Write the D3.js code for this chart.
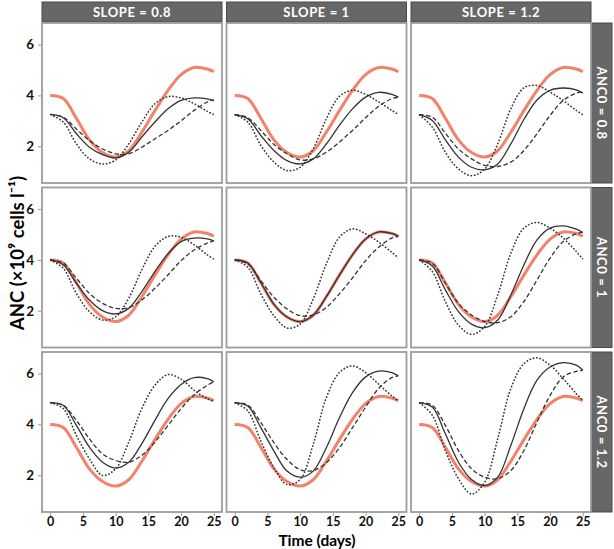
<!DOCTYPE html>
<html>
<head>
<meta charset="utf-8">
<script src="https://cdn.jsdelivr.net/npm/d3@7"></script>
<style>
  body { margin: 0; background: #fff; }
  text { font-family: Lato, "Open Sans", sans-serif; font-weight: bold; }
</style>
</head>
<body>
<svg id="chart" width="614" height="549"></svg>
<script>
const days = [0, 2, 4, 6, 8, 10, 12, 14, 16, 18, 20, 22, 24, 25];
const slopeLabels = ['SLOPE = 0.8', 'SLOPE = 1', 'SLOPE = 1.2'];
const anc0Labels = ['ANC0 = 0.8', 'ANC0 = 1', 'ANC0 = 1.2'];
const xTicks = [0, 5, 10, 15, 20, 25];
const yTicks = [2, 4, 6];

// reference profile (salmon), same in every panel
const reference = [4.0, 3.88, 3.1, 2.25, 1.75, 1.57, 1.82, 2.55, 3.4, 4.2, 4.82, 5.1, 5.04, 4.93];

// panels row by row: ANC0 0.8 / 1 / 1.2, columns SLOPE 0.8 / 1 / 1.2
const solid = [
  [3.25, 3.12, 2.49, 1.96, 1.67, 1.54, 1.76, 2.36, 2.95, 3.47, 3.8, 3.9, 3.86, 3.78],
  [3.24, 3.08, 2.42, 1.83, 1.43, 1.3, 1.5, 2.09, 2.82, 3.47, 3.93, 4.12, 4.04, 3.93],
  [3.24, 3.01, 2.25, 1.57, 1.17, 1.07, 1.3, 2.09, 3.05, 3.82, 4.2, 4.29, 4.22, 4.09],
  [4.0, 3.8, 3.08, 2.42, 2.0, 1.87, 2.09, 2.75, 3.54, 4.24, 4.72, 4.86, 4.83, 4.75],
  [4.0, 3.88, 3.1, 2.25, 1.75, 1.57, 1.82, 2.55, 3.4, 4.2, 4.82, 5.1, 5.04, 4.93],
  [4.0, 3.76, 2.82, 1.96, 1.47, 1.33, 1.63, 2.62, 3.8, 4.79, 5.25, 5.34, 5.21, 5.08],
  [4.86, 4.75, 3.96, 3.1, 2.51, 2.28, 2.51, 3.24, 4.16, 5.01, 5.57, 5.84, 5.8, 5.67],
  [4.86, 4.72, 3.87, 2.95, 2.16, 1.92, 2.16, 3.08, 4.26, 5.25, 5.87, 6.1, 6.04, 5.91],
  [4.86, 4.68, 3.63, 2.51, 1.83, 1.59, 1.92, 3.17, 4.62, 5.74, 6.26, 6.43, 6.33, 6.13]
];
const dashed = [
  [3.25, 3.14, 2.68, 2.22, 1.89, 1.7, 1.7, 1.96, 2.29, 2.62, 3.0, 3.41, 3.74, 3.83],
  [3.24, 3.12, 2.62, 2.07, 1.7, 1.46, 1.5, 1.76, 2.16, 2.62, 3.12, 3.57, 3.87, 3.93],
  [3.24, 3.14, 2.51, 1.89, 1.5, 1.24, 1.2, 1.37, 1.83, 2.49, 3.21, 3.8, 4.09, 4.13],
  [4.0, 3.87, 3.28, 2.68, 2.29, 2.09, 2.12, 2.42, 2.88, 3.41, 3.97, 4.39, 4.66, 4.75],
  [4.0, 3.84, 3.18, 2.53, 2.07, 1.8, 1.83, 2.13, 2.66, 3.29, 3.97, 4.5, 4.86, 4.93],
  [4.0, 3.87, 3.08, 2.29, 1.83, 1.57, 1.53, 1.76, 2.36, 3.21, 4.07, 4.72, 5.03, 5.08],
  [4.86, 4.75, 4.16, 3.43, 2.84, 2.58, 2.51, 2.78, 3.3, 3.96, 4.62, 5.17, 5.54, 5.67],
  [4.86, 4.76, 4.07, 3.28, 2.62, 2.22, 2.18, 2.49, 3.08, 3.87, 4.68, 5.42, 5.84, 5.91],
  [4.86, 4.75, 3.96, 2.97, 2.25, 1.92, 1.86, 2.18, 2.97, 4.09, 5.14, 5.87, 6.09, 6.13]
];
const dotted = [
  [3.25, 2.95, 2.09, 1.5, 1.3, 1.46, 2.09, 2.95, 3.67, 3.95, 3.9, 3.67, 3.37, 3.24],
  [3.24, 2.95, 2.03, 1.37, 1.04, 1.17, 1.9, 3.08, 3.96, 4.2, 4.04, 3.74, 3.41, 3.25],
  [3.24, 2.75, 1.76, 1.1, 0.84, 1.1, 2.09, 3.47, 4.3, 4.39, 4.13, 3.8, 3.41, 3.24],
  [4.0, 3.67, 2.68, 1.96, 1.63, 1.76, 2.49, 3.61, 4.53, 4.92, 4.89, 4.59, 4.2, 4.03],
  [4.0, 3.71, 2.66, 1.8, 1.32, 1.47, 2.46, 3.84, 4.89, 5.22, 5.03, 4.7, 4.3, 4.08],
  [4.0, 3.54, 2.36, 1.43, 1.07, 1.37, 2.62, 4.26, 5.25, 5.47, 5.25, 4.86, 4.33, 4.03],
  [4.86, 4.62, 3.57, 2.64, 1.99, 2.25, 3.3, 4.62, 5.54, 5.96, 5.78, 5.34, 5.01, 4.91],
  [4.86, 4.53, 3.34, 2.29, 1.63, 1.83, 3.21, 5.05, 6.04, 6.3, 6.04, 5.58, 5.12, 4.92],
  [4.86, 4.36, 2.97, 1.86, 1.26, 1.72, 3.43, 5.41, 6.39, 6.62, 6.33, 5.8, 5.21, 4.95]
];

const svg = d3.select('#chart');
const panelW = 180, panelH = 160;
const colX = [42, 226.5, 411];
const rowY = [23, 187.5, 352];

const x = d3.scaleLinear().domain([-1.25, 26.25]).range([0, panelW]);
const y = d3.scaleLinear().domain([0.55, 6.85]).range([panelH, 0]);

const line = d3.line()
  .x((d, i) => x(days[i]))
  .y(d => y(d))
  .curve(d3.curveCatmullRom);

const styles = [
  { data: dashed, dash: '4.5,2.5', width: 1.3 },
  { data: dotted, dash: '1.7,1.7', width: 1.5 },
  { data: solid, dash: null, width: 1.3 }
];

// column strips
slopeLabels.forEach((lab, c) => {
  svg.append('rect')
    .attr('x', colX[c]).attr('y', 2)
    .attr('width', panelW).attr('height', 20)
    .attr('fill', '#676767').attr('stroke', '#4a4a4a');
  svg.append('text')
    .attr('x', colX[c] + panelW / 2).attr('y', 16.5)
    .attr('text-anchor', 'middle')
    .attr('fill', '#fff').attr('font-size', 13)
    .attr('letter-spacing', 0.6)
    .text(lab);
});

// row strips
anc0Labels.forEach((lab, r) => {
  svg.append('rect')
    .attr('x', 591).attr('y', rowY[r])
    .attr('width', 21).attr('height', panelH)
    .attr('fill', '#676767').attr('stroke', '#4a4a4a');
  svg.append('text')
    .attr('transform', `translate(597, ${rowY[r] + panelH / 2}) rotate(90)`)
    .attr('text-anchor', 'middle')
    .attr('fill', '#fff').attr('font-size', 13)
    .attr('letter-spacing', 0.6)
    .text(lab);
});

for (let r = 0; r < 3; r++) {
  for (let c = 0; c < 3; c++) {
    const k = r * 3 + c;
    const g = svg.append('g').attr('transform', `translate(${colX[c]}, ${rowY[r]})`);

    g.append('rect')
      .attr('width', panelW).attr('height', panelH)
      .attr('fill', '#fff').attr('stroke', '#9c9c9c').attr('stroke-width', 1.8);

    g.append('path')
      .attr('d', line(reference))
      .attr('fill', 'none')
      .attr('stroke', '#f2826a')
      .attr('stroke-width', 3);

    styles.forEach(s => {
      g.append('path')
        .attr('d', line(s.data[k]))
        .attr('fill', 'none')
        .attr('stroke', '#333')
        .attr('stroke-width', s.width)
        .attr('stroke-dasharray', s.dash);
    });

    if (c === 0) {
      const ya = g.append('g')
        .attr('transform', 'translate(-1, 0)')
        .call(d3.axisLeft(y).tickValues(yTicks).tickSize(3).tickPadding(4).tickFormat(d3.format('d')));
      ya.select('.domain').remove();
      ya.selectAll('line').attr('stroke', '#999');
      ya.selectAll('text').attr('font-size', 13.5).attr('fill', '#111').attr('font-family', null);
    }
    if (r === 2) {
      const xa = g.append('g')
        .attr('transform', `translate(0, ${panelH + 1})`)
        .call(d3.axisBottom(x).tickValues(xTicks).tickSize(3).tickPadding(1).tickFormat(d3.format('d')));
      xa.select('.domain').remove();
      xa.selectAll('line').attr('stroke', '#999');
      xa.selectAll('text').attr('font-size', 12.5).attr('fill', '#111').attr('font-family', null);
    }
  }
}

// axis titles
svg.append('text')
  .attr('x', 317).attr('y', 545.5)
  .attr('text-anchor', 'middle')
  .attr('font-size', 15.5)
  .text('Time (days)');

svg.append('text')
  .attr('transform', 'translate(24, 253) rotate(-90)')
  .attr('text-anchor', 'middle')
  .attr('font-size', 18.5)
  .text('ANC (×10⁹ cells l⁻¹)');
</script>
</body>
</html>
